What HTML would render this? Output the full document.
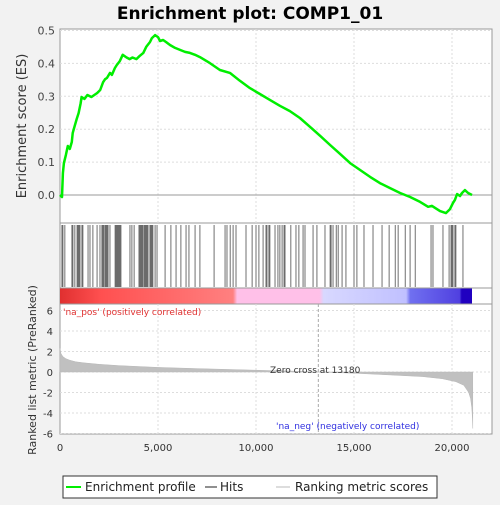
<!DOCTYPE html>
<html><head><meta charset="utf-8"><style>
body{margin:0;background:#f2f2f2;font-family:"Liberation Sans","DejaVu Sans",sans-serif}
svg text{font-family:"DejaVu Sans","Liberation Sans",sans-serif}
</style></head><body>
<svg id="c" width="500" height="500" viewBox="0 0 500 500">
<rect x="0" y="0" width="500" height="500" fill="#f2f2f2"/>
<text x="250" y="19" text-anchor="middle" font-size="17" font-weight="bold">Enrichment plot: COMP1_01</text>
<rect x="60" y="29" width="432" height="405" fill="#fff" stroke="#999"/>
<line x1="60" y1="223" x2="492" y2="223" stroke="#999"/>
<line x1="60" y1="288" x2="492" y2="288" stroke="#999"/>
<line x1="60" y1="304" x2="492" y2="304" stroke="#999"/>
<defs><linearGradient id="cb" x1="0" x2="1">
<stop offset="0" stop-color="#e03030"/><stop offset="0.1" stop-color="#ff5050"/><stop offset="0.42" stop-color="#ff8080"/>
<stop offset="0.43" stop-color="#ffc0e8"/><stop offset="0.63" stop-color="#ffc0e8"/>
<stop offset="0.64" stop-color="#d8d8ff"/><stop offset="0.84" stop-color="#c0c0ff"/>
<stop offset="0.85" stop-color="#7070f0"/><stop offset="0.97" stop-color="#5040e0"/><stop offset="0.975" stop-color="#2000c0"/><stop offset="1" stop-color="#2000c0"/>
</linearGradient></defs>
<rect x="60" y="288.5" width="412" height="15" fill="url(#cb)"/>
<g id="grid"></g><g id="es"></g><g id="hits"></g><g id="metric"></g><g id="axes"></g>
<text x="63" y="315" font-size="9" fill="#e03030">'na_pos' (positively correlated)</text>
<text x="276" y="429" font-size="9" fill="#3030e0">'na_neg' (negatively correlated)</text>
<text x="270" y="373" font-size="9" fill="#333">Zero cross at 13180</text>
<text x="275" y="486" text-anchor="middle" font-size="12" fill="#333">Rank in Ordered Dataset</text>
<text transform="translate(26,126) rotate(-90)" text-anchor="middle" font-size="13" fill="#333">Enrichment score (ES)</text>
<text transform="translate(36,370) rotate(-90)" text-anchor="middle" font-size="11" fill="#333">Ranked list metric (PreRanked)</text>
<g>
<rect x="63" y="476" width="374" height="22" fill="#fff" stroke="#333"/>
<line x1="66" y1="487" x2="81" y2="487" stroke="#00ee00" stroke-width="2"/>
<text x="85" y="491" font-size="12" fill="#222">Enrichment profile</text>
<line x1="205" y1="487" x2="217" y2="487" stroke="#222"/>
<text x="220" y="491" font-size="12" fill="#222">Hits</text>
<line x1="276" y1="487" x2="290" y2="487" stroke="#bbb"/>
<text x="295" y="491" font-size="12" fill="#222">Ranking metric scores</text>
</g>
</svg>
<script>
const esRanks=[0,100,150,200,300,400,500,600,650,750,850,950,1050,1100,1250,1400,1600,1750,1900,2050,2200,2300,2400,2550,2650,2800,2900,3050,3200,3400,3550,3700,3900,4050,4250,4400,4590,4690,4850,5000,5100,5260,5410,5610,5870,6120,6380,6630,6890,7140,7650,8160,8670,9180,9690,10200,10710,11220,11730,12240,12760,13270,13780,14290,14800,15310,15820,16330,16840,17350,17860,18370,18780,18980,19390,19690,19900,20050,20150,20260,20410,20510,20660,20820,21020];
const esValues=[0,-0.006,0.067,0.097,0.122,0.149,0.14,0.161,0.188,0.21,0.231,0.249,0.278,0.298,0.292,0.304,0.298,0.304,0.31,0.319,0.343,0.352,0.356,0.371,0.365,0.386,0.395,0.407,0.426,0.418,0.413,0.418,0.413,0.422,0.432,0.45,0.465,0.477,0.486,0.48,0.468,0.471,0.465,0.456,0.447,0.441,0.435,0.432,0.426,0.419,0.401,0.38,0.371,0.347,0.325,0.307,0.289,0.271,0.255,0.234,0.207,0.18,0.152,0.125,0.097,0.076,0.055,0.036,0.021,0.006,-0.006,-0.021,-0.036,-0.033,-0.049,-0.055,-0.043,-0.024,-0.015,0.003,-0.003,0.006,0.015,0.006,0];
const hitRanks=[100,150,250,610,660,760,870,920,970,1020,1120,1170,1430,1530,1680,1890,2040,2140,2190,2240,2300,2350,2400,2450,2550,2810,2860,2910,2960,3010,3060,3110,3570,3670,3780,4030,4080,4130,4180,4230,4290,4340,4390,4440,4490,4590,4640,4690,4740,4850,4950,5360,5660,5920,6170,6430,6580,6890,7140,7860,8420,8520,8680,8830,8980,9490,9800,10000,10150,10360,10510,10560,10660,10710,10970,11120,11220,11330,11430,11480,11780,12040,12190,12400,12500,12910,13110,13520,13780,13830,13930,14090,14190,14390,14590,15000,15150,15510,15970,16430,16790,17100,17250,17610,17860,18120,18930,19030,19540,19850,19950,20000,20050,20150,20200,20560];
const metricRanks=[0,50,150,300,500,800,1200,2000,3000,5000,7000,10000,12000,13180,15000,17000,18500,19500,20200,20600,20850,20950,21010,21040,21060];
const metricValues=[2.3,1.8,1.5,1.3,1.15,1.0,0.9,0.75,0.62,0.45,0.33,0.18,0.08,0,-0.12,-0.3,-0.45,-0.65,-0.95,-1.3,-2.0,-2.6,-3.5,-4.5,-5.5];
const esTicks=[0,0.1,0.2,0.3,0.4,0.5];
const metricTicks=[6,4,2,0,-2,-4,-6];
const xTicks=[0,5000,10000,15000,20000];
const xTickLabels=["0","5,000","10,000","15,000","20,000"];
const NS="http://www.w3.org/2000/svg";
const xs=r=>60+r*0.0196;
const yEs=v=>195-v*329;
const yM=v=>372-v*10.25;
function mk(tag,attrs,parent){const e=document.createElementNS(NS,tag);for(const k in attrs)e.setAttribute(k,attrs[k]);document.getElementById(parent).appendChild(e);return e;}
xTicks.forEach((t,i)=>{if(t===0)return;
 let g=mk('line',{x1:xs(t),x2:xs(t),y1:29,y2:223,stroke:'#ddd','stroke-dasharray':'2,2'},'grid');
 
 
 let g2=mk('line',{x1:xs(t),x2:xs(t),y1:304,y2:434,stroke:'#ddd','stroke-dasharray':'2,2'},'grid');
 
 
});
esTicks.forEach(t=>{
 let l=mk('line',{x1:60,x2:492,y1:yEs(t),y2:yEs(t),stroke:t===0?'#999':'#ddd','stroke-dasharray':t===0?'':'2,2'},'grid');
 
 
 let tx=mk('text',{x:55,y:yEs(t)+4,'text-anchor':'end','font-size':11,fill:'#444'},'axes');
 tx.textContent=t.toFixed(1);
 
 
});
metricTicks.forEach(t=>{
 let l=mk('line',{x1:60,x2:492,y1:yM(t),y2:yM(t),stroke:'#ddd','stroke-dasharray':'2,2'},'grid');
 
 
 let tx=mk('text',{x:53,y:yM(t)+4,'text-anchor':'end','font-size':10,fill:'#333'},'axes');
 tx.textContent=String(t);
 
 
});
let zc=mk('line',{x1:xs(13180),x2:xs(13180),y1:304,y2:434,stroke:'#aaa','stroke-dasharray':'3,2'},'grid');


xTicks.forEach((t,i)=>{
 let tx=mk('text',{x:xs(t),y:451,'text-anchor':'middle','font-size':10,fill:'#333'},'axes');
 tx.textContent=xTickLabels[i];
 
 
});
let pts=esRanks.map((r,i)=>xs(r).toFixed(1)+','+yEs(esValues[i]).toFixed(1)).join(' ');
let pl=mk('polyline',{points:pts,fill:'none',stroke:'#00ee00','stroke-width':2.5,'stroke-linejoin':'round'},'es');


hitRanks.forEach(r=>{
 let l=mk('line',{x1:xs(r),x2:xs(r),y1:225,y2:287,stroke:'#111','stroke-width':0.6},'hits');
 
 
});
let mp='M'+xs(0)+','+yM(0)+' '+metricRanks.map((r,i)=>'L'+xs(r).toFixed(1)+','+yM(metricValues[i]).toFixed(1)).join(' ')+' L'+xs(21060)+','+yM(0)+'Z';
let ma=mk('path',{d:mp,fill:'#c0c0c0',stroke:'#b8b8b8','stroke-width':0.5},'metric');


</script>
</body></html>
